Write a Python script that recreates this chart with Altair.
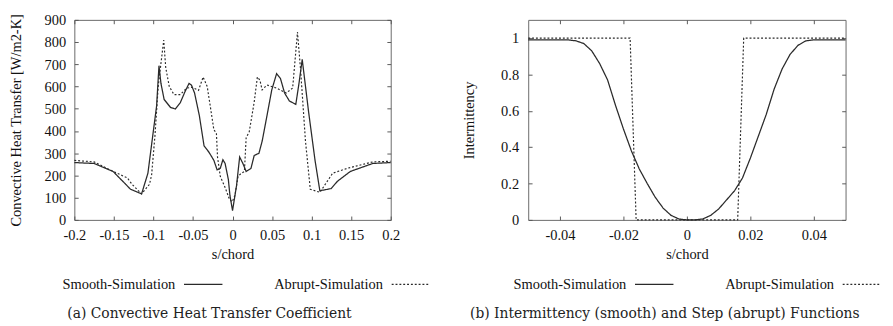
import altair as alt
import pandas as pd

# ---------------- panel (a): convective heat transfer ----------------
a_smooth_s = [-0.2, -0.175, -0.151, -0.135, -0.129, -0.115, -0.107, -0.1023, -0.096, -0.093,
              -0.0905, -0.0865, -0.0784, -0.0723, -0.066, -0.06, -0.055, -0.052, -0.048, -0.042,
              -0.036, -0.0297, -0.0236, -0.0195, -0.0155, -0.0122, -0.0094, -0.0053, -0.0033, 0.0,
              0.005, 0.009, 0.0131, 0.0172, 0.0233, 0.0274, 0.0334, 0.0375, 0.0436, 0.0496,
              0.0557, 0.0606, 0.0658, 0.0719, 0.080, 0.084, 0.0881, 0.0962, 0.1043, 0.1104,
              0.1246, 0.1327, 0.1489, 0.1773, 0.2]
a_smooth_v = [258, 254, 218, 160, 138, 117, 210, 340, 513, 694,
              614, 542, 506, 499, 528, 578, 614, 607, 571, 470,
              333, 304, 268, 225, 232, 271, 254, 182, 110, 42,
              153, 283, 254, 218, 232, 290, 300, 355, 470, 585,
              658, 636, 571, 535, 520, 614, 722, 485, 268, 131,
              141, 174, 218, 254, 258]

a_abrupt_s = [-0.2, -0.175, -0.155, -0.133, -0.127, -0.115, -0.105, -0.1023, -0.098, -0.094,
              -0.087, -0.0845, -0.080, -0.074, -0.066, -0.058, -0.051, -0.043, -0.0372, -0.032,
              -0.027, -0.0236, -0.0204, -0.019, -0.0155, -0.0094, -0.0041, -0.0005, 0.003, 0.007,
              0.011, 0.015, 0.0172, 0.0212, 0.0273, 0.0314, 0.0346, 0.0374, 0.0435, 0.0557,
              0.0679, 0.076, 0.0821, 0.0861, 0.0922, 0.0983, 0.1104, 0.1266, 0.1449, 0.1773, 0.2]
a_abrupt_v = [268, 261, 225, 189, 160, 117, 160, 203, 383, 600,
              809, 686, 600, 564, 564, 593, 597, 583, 643, 600,
              485, 405, 391, 283, 196, 146, 95, 81, 110, 196,
              210, 218, 369, 398, 528, 643, 629, 585, 607, 593,
              571, 593, 845, 672, 355, 138, 124, 210, 232, 261, 264]

# ---------------- panel (b): intermittency / step ----------------
b_smooth_s = [-0.05, -0.0475, -0.045, -0.0425, -0.04, -0.0375, -0.035, -0.0325, -0.03, -0.0275,
              -0.025, -0.0225, -0.02, -0.0175, -0.015, -0.0125, -0.01, -0.0075, -0.005, -0.0025,
              0.0, 0.0025, 0.005, 0.0075, 0.01, 0.0125, 0.015, 0.0175, 0.02, 0.0225,
              0.025, 0.0275, 0.03, 0.0325, 0.035, 0.0375, 0.04, 0.0425, 0.045, 0.0475, 0.05]
b_smooth_v = [0.99, 0.99, 0.99, 0.99, 0.99, 0.99, 0.985, 0.97, 0.93, 0.86,
              0.77, 0.63, 0.50, 0.38, 0.28, 0.20, 0.125, 0.065, 0.025, 0.005,
              0.0, 0.0, 0.005, 0.025, 0.06, 0.11, 0.16, 0.23, 0.34, 0.46,
              0.58, 0.72, 0.83, 0.91, 0.96, 0.985, 0.99, 0.99, 0.99, 0.99, 0.99]

b_abrupt_s = [-0.05, -0.0179, -0.016, 0.016, 0.0179, 0.05]
b_abrupt_v = [1.0, 1.0, 0.0, 0.0, 1.0, 1.0]

series = ["Smooth-Simulation", "Abrupt-Simulation"]

a_xticks = [-0.2, -0.15, -0.1, -0.05, 0, 0.05, 0.1, 0.15, 0.2]
a_yticks = [0, 100, 200, 300, 400, 500, 600, 700, 800, 900]
b_xticks = [-0.04, -0.02, 0, 0.02, 0.04]
b_yticks = [0, 0.2, 0.4, 0.6, 0.8, 1]

captions = ["(a) Convective Heat Transfer Coefficient",
            "(b) Intermittency (smooth) and Step (abrupt) Functions"]

FONT = "Liberation Serif"
LBL = "datum.value < 0 ? '-' + format(-datum.value, '~g') : format(datum.value, '~g')"
INK = "#2a2a2a"


def frame(s, v, name):
    return pd.DataFrame({"s": s, "v": v, "series": name, "i": list(range(len(s)))})


def panel(df_s, df_a, xdom, ydom, xt, yt, ytitle, ytp, ylp, caption, w, cdx, lx):
    xs = alt.Scale(domain=xdom, nice=False, zero=False)
    ys = alt.Scale(domain=ydom, nice=False, zero=False)
    dash = alt.StrokeDash(
        "series:N",
        scale=alt.Scale(domain=series, range=[[1, 0], [2, 2]]),
        legend=alt.Legend(
            orient="none", legendX=lx, legendY=254, direction="horizontal",
            title=None, symbolType="stroke", symbolSize=1600, symbolStrokeWidth=1.2,
            symbolStrokeColor=INK, labelAlign="right", labelOffset=alt.ExprRef(expr="-50"),
            columnPadding=50, labelFont=FONT, labelFontSize=15, labelColor="#111",
            labelLimit=0,
        ),
    )
    tick = alt.ExprRef(expr="-4")
    common = dict(labelFlush=False, labelOverlap=False)
    l1 = alt.Chart(df_s).mark_line(color=INK, strokeWidth=1.3).encode(
        x=alt.X("s:Q", scale=xs, axis=alt.Axis(
            orient="bottom", values=xt, labelExpr=LBL, title="s/chord",
            tickSize=tick, labelPadding=12, titlePadding=5, **common)),
        y=alt.Y("v:Q", scale=ys, axis=alt.Axis(
            orient="left", values=yt, labelExpr=LBL, title=ytitle,
            tickSize=tick, labelPadding=ylp, titlePadding=ytp, **common)),
        strokeDash=dash,
        order="i:Q",
    )
    l2 = alt.Chart(df_a).mark_line(color=INK, strokeWidth=1.2).encode(
        x=alt.X("s:Q", scale=xs, axis=alt.Axis(
            orient="top", values=xt, labels=False, title=None, tickSize=tick)),
        y=alt.Y("v:Q", scale=ys, axis=alt.Axis(
            orient="right", values=yt, labels=False, title=None, tickSize=tick)),
        strokeDash=dash,
        order="i:Q",
    )
    return alt.layer(l1, l2).resolve_axis(x="independent", y="independent").properties(
        width=w, height=208,
        title=alt.TitleParams(
            caption, orient="bottom", anchor="middle", frame="group", dx=cdx,
            offset=16, font="DejaVu Serif", fontSize=14.4, fontWeight="normal", color="#222",
        ),
    )


left = panel(frame(a_smooth_s, a_smooth_v, series[0]), frame(a_abrupt_s, a_abrupt_v, series[1]),
             [-0.2, 0.2], [0, 900], a_xticks, a_yticks,
             "Convective Heat Transfer [W/m2-K]", 22, 13, captions[0], 329, -24, 113)
right = panel(frame(b_smooth_s, b_smooth_v, series[0]), frame(b_abrupt_s, b_abrupt_v, series[1]),
              [-0.05, 0.05], [0, 1.1], b_xticks, b_yticks,
              "Intermittency", 25, 14, captions[1], 330, -23, 110)

chart = alt.hconcat(left, right, spacing=28).resolve_scale(
    strokeDash="independent"
).resolve_legend(strokeDash="independent").properties(
    padding={"left": 0, "top": -2, "right": 0, "bottom": 0}, background="white"
).configure_view(stroke="#666", strokeWidth=1).configure_axis(
    labelFont=FONT, titleFont=FONT, labelFontSize=15, titleFontSize=15,
    titleFontWeight="normal", labelColor="#111", titleColor="#111",
    tickColor="#555", domain=False, grid=False,
)

chart.save("out.html", embed_options={"renderer": "svg", "actions": False})
